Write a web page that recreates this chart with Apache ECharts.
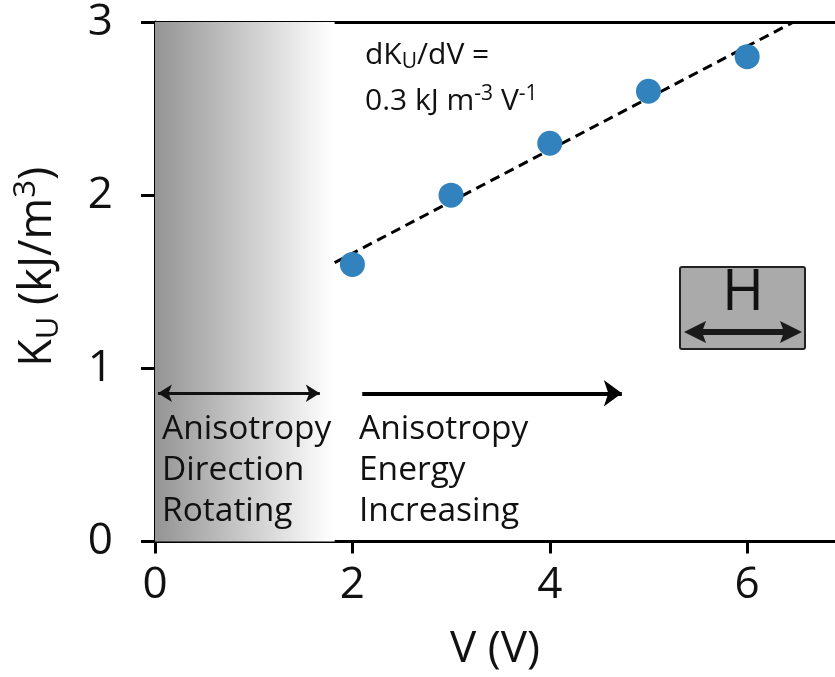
<!DOCTYPE html>
<html>
<head>
<meta charset="utf-8">
<script src="https://cdn.jsdelivr.net/npm/echarts@6/dist/echarts.min.js"></script>
<style>html,body{margin:0;padding:0;background:#fff}#c{width:835px;height:677px}</style>
</head>
<body>
<div id="c"></div>
<script>
// ---- data ----
const voltages = [2, 3, 4, 5, 6];
const kuValues = [1.6, 2.0, 2.3, 2.6, 2.8];
const fitLine = [[1.82, 1.61], [6.47, 3.0]];
const xTicks = [0, 2, 4, 6];
const yTicks = [0, 1, 2, 3];
const shadedRange = [0, 1.82];
const rotArrow = [[0.03, 0.856], [1.67, 0.856]];
const energyArrow = [[2.10, 0.856], [4.73, 0.856]];

const FONT = '"Open Sans", "DejaVu Sans", sans-serif';
const chart = echarts.init(document.getElementById('c'), null, {renderer: 'canvas'});

const option = {
  backgroundColor: '#fff',
  animation: false,
  grid: {left: 155, right: 0, top: 21.5, bottom: 135.5, containLabel: false},
  xAxis: [{
    type: 'value', min: 0, max: 6.89, position: 'bottom',
    name: 'V (V)', nameLocation: 'middle', nameGap: 86,
    nameTextStyle: {fontFamily: FONT, fontSize: 44, color: '#111'},
    axisLine: {show: true, lineStyle: {color: '#000', width: 3}},
    axisTick: {show: true, length: 12, lineStyle: {color: '#000', width: 3}, customValues: xTicks},
    axisLabel: {fontFamily: FONT, fontSize: 44, color: '#111', margin: 22, customValues: xTicks},
    splitLine: {show: false}
  }, {
    type: 'value', min: 0, max: 6.89, position: 'top',
    axisLine: {show: true, onZero: false, lineStyle: {color: '#000', width: 3}},
    axisTick: {show: false}, axisLabel: {show: false}, splitLine: {show: false}
  }],
  yAxis: {
    type: 'value', min: 0, max: 3, interval: 1,
    name: '{a|K}{sub|U}{a| (kJ/m}{sup|3}{a|)}',
    nameLocation: 'middle', nameGap: 87, nameRotate: 90,
    nameTextStyle: {
      fontFamily: FONT, fontSize: 44, color: '#111',
      padding: [0, 0, 0, 30],
      rich: {
        a: {fontFamily: FONT, fontSize: 45, color: '#111', lineHeight: 60, verticalAlign: 'middle'},
        sub: {fontFamily: FONT, fontSize: 31, color: '#111', padding: [22, 0, 0, 0], verticalAlign: 'middle'},
        sup: {fontFamily: FONT, fontSize: 31, color: '#111', padding: [0, 0, 24, 0], verticalAlign: 'middle'}
      }
    },
    axisLine: {show: true, onZero: false, lineStyle: {color: '#000', width: 3}},
    axisTick: {show: true, length: 14, lineStyle: {color: '#000', width: 3}},
    axisLabel: {fontFamily: FONT, fontSize: 44, color: '#111', margin: 42},
    splitLine: {show: false}
  },
  series: [{
    type: 'line', xAxisIndex: 0, data: fitLine, symbol: 'none', z: 3,
    lineStyle: {color: '#000', width: 3, type: [10, 6]},
    markArea: {
      silent: true,
      itemStyle: {
        color: new echarts.graphic.LinearGradient(0, 0, 1, 0, [
          {offset: 0, color: '#949494'}, {offset: 0.95, color: '#fbfbfb'}, {offset: 1, color: '#ffffff'}
        ])
      },
      data: [[{xAxis: shadedRange[0], yAxis: 3}, {xAxis: shadedRange[1], yAxis: 0}]]
    },
    markLine: {
      silent: true, animation: false,
      label: {show: false},
      data: [
        [{coord: rotArrow[0], symbol: 'arrow', symbolSize: [13, 14], lineStyle: {color: '#111', width: 3, type: 'solid'}},
         {coord: rotArrow[1], symbol: 'arrow', symbolSize: [13, 14]}],
        [{coord: energyArrow[0], symbol: 'none', lineStyle: {color: '#000', width: 4, type: 'solid'}},
         {coord: energyArrow[1], symbol: 'arrow', symbolSize: [20, 18]}]
      ]
    }
  }, {
    type: 'scatter', xAxisIndex: 0, z: 5,
    data: voltages.map((v, i) => [v, kuValues[i]]),
    symbol: 'circle', symbolSize: 25,
    itemStyle: {color: '#3182bd', opacity: 1}
  }],
  graphic: [
    {
      type: 'text', left: 365, top: 40, z: 10,
      style: {
        rich: {
          t: {fontFamily: FONT, fontSize: 30, fill: '#111', lineHeight: 46},
          s: {fontFamily: FONT, fontSize: 21, fill: '#111', padding: [14, 0, 0, 0]},
          p: {fontFamily: FONT, fontSize: 21, fill: '#111', padding: [0, 0, 14, 0]}
        },
        text: '{t|dK}{s|U}{t|/dV =}\n{t|0.3 kJ m}{p|-3}{t| V}{p|-1}'
      }
    },
    {
      type: 'text', left: 162, top: 409, z: 10,
      style: {text: 'Anisotropy\nDirection\nRotating', fontFamily: FONT, fontSize: 33.5, fill: '#111', lineHeight: 41}
    },
    {
      type: 'text', left: 359, top: 409, z: 10,
      style: {text: 'Anisotropy\nEnergy\nIncreasing', fontFamily: FONT, fontSize: 33.5, fill: '#111', lineHeight: 41}
    },
    {
      type: 'group', z: 10,
      children: [
        {type: 'rect', shape: {x: 680, y: 267, width: 125, height: 82, r: 2},
         style: {fill: '#aaaaaa', stroke: '#222', lineWidth: 2}},
        {type: 'text', x: 743, y: 294,
         style: {text: 'H', fontFamily: FONT, fontSize: 57, fill: '#111', align: 'center', verticalAlign: 'middle'}},
        {type: 'line', shape: {x1: 700, y1: 332, x2: 786, y2: 332}, style: {stroke: '#1a1a1a', lineWidth: 6}},
        {type: 'polygon', shape: {points: [[684, 332], [706, 321], [702, 332], [706, 343]]}, style: {fill: '#1a1a1a'}},
        {type: 'polygon', shape: {points: [[802, 332], [780, 321], [784, 332], [780, 343]]}, style: {fill: '#1a1a1a'}}
      ]
    }
  ]
};
chart.setOption(option);
</script>
</body>
</html>
